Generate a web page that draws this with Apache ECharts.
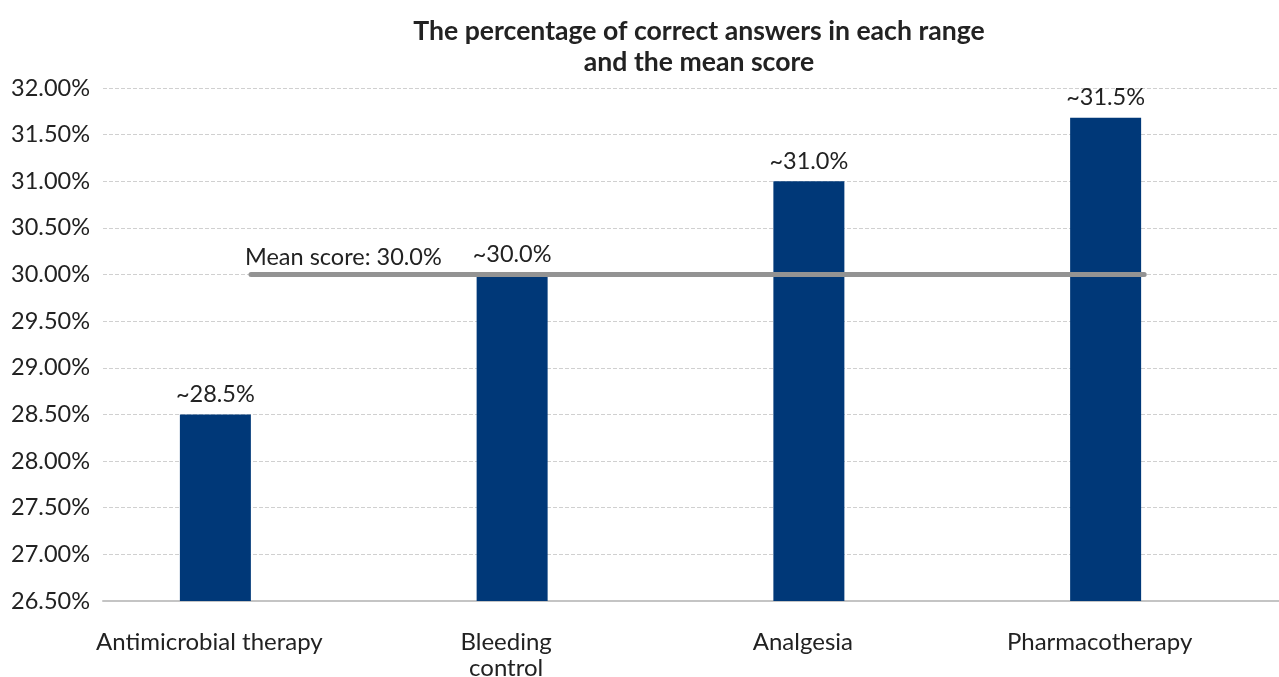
<!DOCTYPE html>
<html>
<head>
<meta charset="utf-8">
<script src="https://cdn.jsdelivr.net/npm/echarts@6/dist/echarts.min.js"></script>
<style>
  html, body { margin: 0; padding: 0; background: #fff; }
  #main { width: 1279px; height: 677px; }
</style>
</head>
<body>
<div id="main"></div>
<script>
    // values
    var categories = ['Antimicrobial therapy', 'Bleeding\ncontrol', 'Analgesia', 'Pharmacotherapy'];
    var scores = [28.5, 30.0, 31.0, 31.68];
    var scoreLabels = ['~28.5%', '~30.0%', '~31.0%', '~31.5%'];
    var meanScore = 30.0;
    var meanLabel = 'Mean score: 30.0%';
    // mean line runs from right edge of first bar to right edge of last bar (category units)
    var meanLineX = [0.12, 3.13];
    var yMin = 26.5, yMax = 32, yStep = 0.5;

    var font = 'Lato, "Open Sans", sans-serif';
    var myChart = echarts.init(document.getElementById('main'));

    var option = {
        animation: false,
        title: {
            text: 'The percentage of correct answers in each range\nand the mean score',
            left: 694,
            textAlign: 'center',
            top: 11,
            textStyle: {
                fontFamily: font,
                fontSize: 26.6,
                fontWeight: 'bold',
                color: '#222',
                lineHeight: 31
            }
        },
        // grid 0 : gridlines + y labels, grid 1 : the bars (Excel style offset)
        grid: [
            { left: 103, right: 0, top: 88, bottom: 76, outerBoundsMode: 'none' },
            { left: 67, right: 25, top: 88, bottom: 76, outerBoundsMode: 'none' }
        ],
        xAxis: [{
            gridIndex: 0,
            type: 'value',
            min: 0, max: 1,
            axisLine: { show: true, onZero: false, lineStyle: { color: '#c4c4c4', width: 2 } },
            axisTick: { show: false },
            axisLabel: { show: false },
            splitLine: { show: false }
        }, {
            gridIndex: 1,
            type: 'category',
            data: categories,
            axisLine: { show: false },
            axisTick: { show: false },
            axisLabel: {
                fontFamily: font, fontSize: 24, color: '#222',
                margin: 28, lineHeight: 26,
                padding: [0, 12, 0, 0]
            }
        }, {
            gridIndex: 1,
            type: 'value',
            min: -0.5,
            max: 3.5,
            show: false
        }],
        yAxis: [{
            gridIndex: 0,
            type: 'value',
            min: yMin, max: yMax, interval: yStep,
            axisLine: { show: false },
            axisTick: { show: false },
            splitLine: { lineStyle: { color: '#d0d0d0', type: 'dashed', width: 1 } },
            axisLabel: {
                fontFamily: font, fontSize: 23.5, color: '#222', margin: 13,
                formatter: function (v) { return v.toFixed(2) + '%'; }
            }
        }, {
            gridIndex: 1,
            type: 'value',
            min: yMin, max: yMax, interval: yStep,
            show: false
        }],
        series: [{
            type: 'bar',
            xAxisIndex: 1,
            yAxisIndex: 1,
            data: scores,
            barWidth: 71,
            itemStyle: { color: '#003878' },
            label: {
                show: true,
                position: 'top',
                distance: 8,
                fontFamily: font, fontSize: 23.5, color: '#222',
                formatter: function (p) { return scoreLabels[p.dataIndex]; }
            },
            z: 2
        }, {
            type: 'line',
            xAxisIndex: 2,
            yAxisIndex: 1,
            data: [[meanLineX[0], meanScore], [meanLineX[1], meanScore]],
            symbol: 'none',
            lineStyle: { color: '#939393', width: 5, cap: 'round' },
            markPoint: {
                symbol: 'rect',
                symbolSize: 0,
                data: [{ coord: [meanLineX[0], meanScore] }],
                label: {
                    show: true,
                    position: 'top',
                    align: 'left',
                    offset: [-6, 0],
                    fontFamily: font, fontSize: 23.5, color: '#222',
                    formatter: meanLabel
                }
            },
            z: 3
        }]
    };

    myChart.setOption(option);
</script>
</body>
</html>
